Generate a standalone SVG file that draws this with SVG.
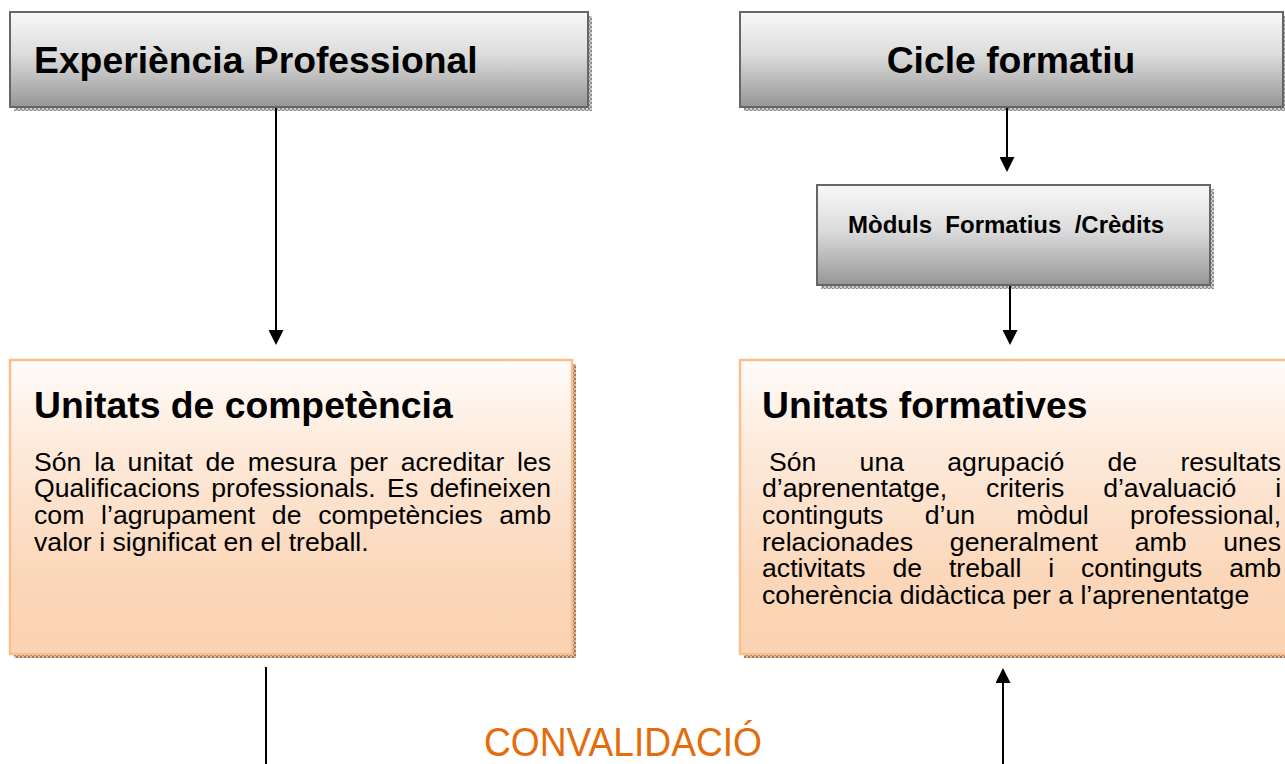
<svg xmlns="http://www.w3.org/2000/svg" width="1285" height="764" viewBox="0 0 1285 764">
  <defs>
    <linearGradient id="gGray" x1="0" y1="0" x2="0" y2="1">
      <stop offset="0" stop-color="#f8f8f8"/>
      <stop offset="0.45" stop-color="#dcdcdc"/>
      <stop offset="1" stop-color="#969696"/>
    </linearGradient>
    <linearGradient id="gPeach" x1="0" y1="0" x2="0" y2="1">
      <stop offset="0" stop-color="#fffcfa"/>
      <stop offset="0.3" stop-color="#fdeadb"/>
      <stop offset="0.75" stop-color="#fbd6b8"/>
      <stop offset="1" stop-color="#fad3b3"/>
    </linearGradient>
    <pattern id="hGray" width="4" height="4" patternUnits="userSpaceOnUse">
      <rect width="4" height="4" fill="#cfcfcf"/>
      <path d="M0,0h2v2h-2zM2,2h2v2h-2z" fill="#8e8e8e"/>
    </pattern>
    <pattern id="hBrown" width="4" height="4" patternUnits="userSpaceOnUse">
      <rect width="4" height="4" fill="#dfb898"/>
      <path d="M0,0h2v2h-2zM2,2h2v2h-2z" fill="#a07a60"/>
    </pattern>
    <marker id="arr" viewBox="0 0 10 10" refX="0" refY="5" markerWidth="15" markerHeight="15" markerUnits="userSpaceOnUse" orient="auto">
      <path d="M0,0 L10,5 L0,10 z" fill="#000"/>
    </marker>
    <style>
      .gbox { fill: url(#gGray); stroke: #666666; stroke-width: 2; }
      .gsh { fill: url(#hGray); }
      .pbox { fill: url(#gPeach); stroke: #f9bf8e; stroke-width: 2.5; }
      .psh { fill: url(#hBrown); }
      .title { font-family: "Liberation Sans", Arial, sans-serif; font-weight: bold; font-size: 37.3px; fill: #000; }
      .sub { font-family: "Liberation Sans", Arial, sans-serif; font-weight: bold; font-size: 24px; fill: #000; }
      .body { font-family: "Liberation Sans", Arial, sans-serif; font-size: 25px; fill: #000; }
      .conn { stroke: #000; stroke-width: 2; fill: none; }
      .conv { font-family: "Liberation Sans", Arial, sans-serif; font-size: 41px; fill: #e46c0a; }
    </style>
  </defs>
  <rect width="1285" height="764" fill="#ffffff"/>

  <g id="node-experiencia">
    <rect class="gsh" x="14" y="16" width="578" height="95"/>
    <rect class="gbox" x="10" y="12" width="578" height="95"/>
    <text class="title" x="34" y="73">Experiència Professional</text>
  </g>

  <g id="node-cicle">
    <rect class="gsh" x="744" y="16" width="543" height="95"/>
    <rect class="gbox" x="740" y="12" width="543" height="95"/>
    <text class="title" x="1011" y="73" text-anchor="middle">Cicle formatiu</text>
  </g>

  <g id="node-moduls">
    <rect class="gsh" x="821" y="189" width="393" height="100"/>
    <rect class="gbox" x="817" y="185" width="393" height="100"/>
    <text class="sub" x="848" y="233" xml:space="preserve">Mòduls  Formatius  /Crèdits</text>
  </g>

  <g id="node-unitats-competencia">
    <rect class="psh" x="14" y="364" width="562" height="294"/>
    <rect class="pbox" x="10" y="360" width="562" height="294"/>
    <text class="title" x="34" y="418">Unitats de competència</text>
    <g transform="translate(34,0) scale(1.066,1)">
      <text class="body" x="0" y="471" word-spacing="5.0">Són la unitat de mesura per acreditar les</text>
      <text class="body" x="0" y="497.5" word-spacing="3.81">Qualificacions professionals. Es defineixen</text>
      <text class="body" x="0" y="524" word-spacing="8.76">com l’agrupament de competències amb</text>
      <text class="body" x="0" y="551">valor i significat en el treball.</text>
    </g>
  </g>

  <g id="node-unitats-formatives">
    <rect class="psh" x="744" y="364" width="550" height="294"/>
    <rect class="pbox" x="740" y="360" width="550" height="294"/>
    <text class="title" x="762" y="418">Unitats formatives</text>
    <g transform="translate(762,0) scale(1.066,1)">
      <text class="body" x="6.56" y="471" word-spacing="33.61">Són una agrupació de resultats</text>
      <text class="body" x="0" y="497.5" word-spacing="29.43">d’aprenentatge, criteris d’avaluació i</text>
      <text class="body" x="0" y="524" word-spacing="31.72">continguts d’un mòdul professional,</text>
      <text class="body" x="0" y="551" word-spacing="27.55">relacionades generalment amb unes</text>
      <text class="body" x="0" y="577.5" word-spacing="18.21">activitats de treball i continguts amb</text>
      <text class="body" x="0" y="604">coherència didàctica per a l’aprenentatge</text>
    </g>
  </g>

  <g id="connectors">
    <line class="conn" x1="276" y1="108" x2="276" y2="330" marker-end="url(#arr)"/>
    <line class="conn" x1="1007" y1="108" x2="1007" y2="157" marker-end="url(#arr)"/>
    <line class="conn" x1="1010" y1="286" x2="1010" y2="330" marker-end="url(#arr)"/>
    <line class="conn" x1="266" y1="667" x2="266" y2="764"/>
    <line class="conn" x1="1003" y1="764" x2="1003" y2="683" marker-end="url(#arr)"/>
  </g>

  <text id="label-convalidacio" class="conv" x="484" y="756" textLength="278" lengthAdjust="spacingAndGlyphs">CONVALIDACIÓ</text>
</svg>
